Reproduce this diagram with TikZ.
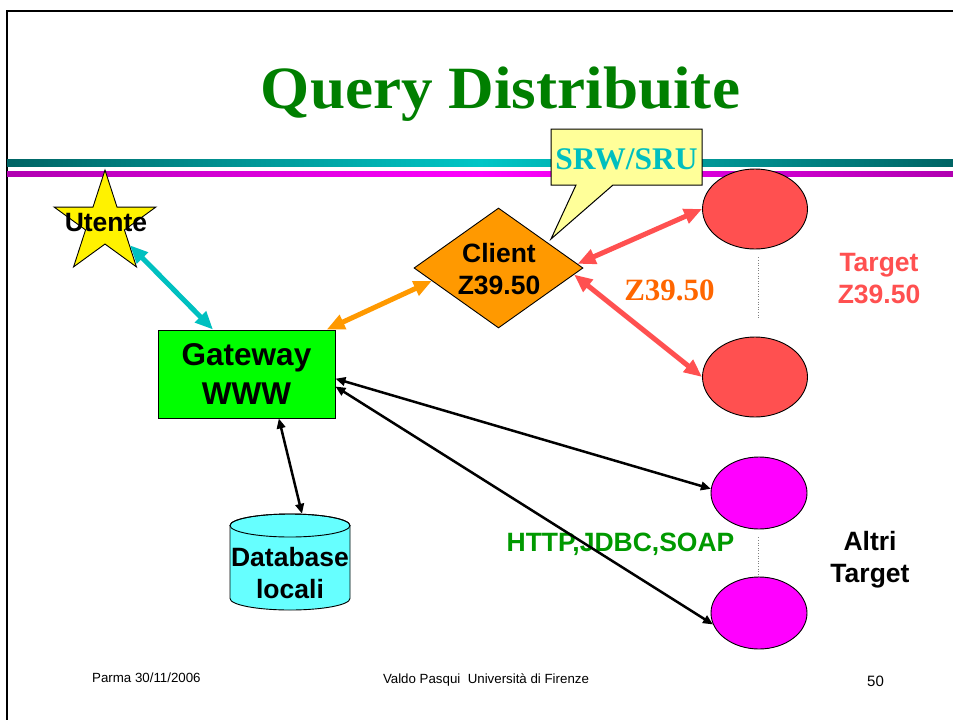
\documentclass[tikz,border=0pt]{standalone}
\usepackage{fontspec}
\setmainfont{Liberation Serif}
\setsansfont{Liberation Sans}
\usetikzlibrary{shapes.geometric,arrows.meta}
\definecolor{titlegreen}{HTML}{007F00}
\definecolor{tealdark}{HTML}{006464}
\definecolor{teallight}{HTML}{00C6C6}
\definecolor{magdark}{HTML}{B000B0}
\definecolor{maglight}{HTML}{FF00FF}
\definecolor{callyellow}{HTML}{FFFF99}
\definecolor{srwcyan}{HTML}{00BFBF}
\definecolor{gwgreen}{HTML}{00FF00}
\definecolor{clorange}{HTML}{FF9900}
\definecolor{tgtred}{HTML}{FF5050}
\definecolor{zorange}{HTML}{FF6600}
\definecolor{httpgreen}{HTML}{009900}
\definecolor{dbcyan}{HTML}{66FFFF}
\definecolor{arrcyan}{HTML}{00C0C0}
\tikzset{
  shapeline/.style={draw=black, line width=0.9pt},
  bold/.style={font=\sffamily\bfseries\fontsize{26.5}{32}\selectfont, inner sep=0pt, align=center},
  foot/.style={font=\sffamily\fontsize{13.3}{16}\selectfont, inner sep=0pt},
  bigarrow/.style={line width=5pt, {Triangle[length=18pt,width=15pt]}-{Triangle[length=18pt,width=15pt]}},
  thinarrow/.style={line width=2.5pt, {Triangle[length=10pt,width=8.5pt]}-{Triangle[length=10pt,width=8.5pt]}},
  dotline/.style={draw=gray, line width=0.6pt, dotted},
  oval/.style={ellipse, shapeline, inner sep=0pt}
}
\begin{document}
\begin{tikzpicture}[x=1pt,y=-1pt]
\useasboundingbox (0,0) rectangle (953,720);
\fill[white] (0,0) rectangle (953,720);
% slide frame
\draw[line width=2pt] (7,720) -- (7,11) -- (953,11);
% title
\node[font=\bfseries\fontsize{60}{70}\selectfont, text=titlegreen, inner sep=0pt, anchor=base] (title) at (500.5,108) {\scalebox{1.053}[1]{Query Distribuite}};
% bars
\shade[left color=tealdark, right color=tealdark, middle color=teallight] (7,159.5) rectangle (953,166.5);
\shade[left color=magdark, right color=magdark, middle color=maglight] (7,171) rectangle (953,176);
% callout
\draw[fill=callyellow, line width=1pt] (551,129) -- (702,129) -- (702,185) -- (613,185) -- (551,239) -- (576,185) -- (551,185) -- cycle;
\node[font=\bfseries\fontsize{31.5}{36}\selectfont, text=srwcyan, inner sep=0pt, anchor=base] (srw) at (626.5,169) {SRW/SRU};
% star
\node[star, star points=5, star point ratio=2.618, minimum size=107pt, inner sep=0pt, shapeline, fill=yellow] (star) at (105,223.6) {};
\node[bold, anchor=base] (utente) at (106,231) {Utente};
% gateway
\node[rectangle, shapeline, fill=gwgreen, minimum width=177pt, minimum height=88pt, inner sep=0pt, align=center, font=\sffamily\bfseries\fontsize{31.5}{39}\selectfont] (gw) at (246.5,374) {Gateway\\WWW};
% client diamond
\node[diamond, shapeline, fill=clorange, minimum width=169pt, minimum height=120pt, inner sep=0pt] (cl) at (498.5,268) {};
\node[bold] (cltext) at (499,269.5) {Client\\Z39.50};
% targets
\node[oval, fill=tgtred, minimum width=105pt, minimum height=80pt] (t1) at (755,209) {};
\node[oval, fill=tgtred, minimum width=105pt, minimum height=80pt] (t2) at (755,377) {};
\draw[dotline, shorten <=8pt, shorten >=18pt] ([xshift=3pt]t1.south) -- ([xshift=3pt]t2.north);
\node[bold, text=tgtred] (tgtlbl) at (879,278.4) {Target\\Z39.50};
\node[font=\bfseries\fontsize{31}{36}\selectfont, text=zorange, inner sep=0pt, anchor=base] (zlbl) at (669.5,300) {Z39.50};
% other targets
\node[oval, fill=maglight, minimum width=96pt, minimum height=72pt] (a1) at (759,493) {};
\node[oval, fill=maglight, minimum width=96pt, minimum height=72pt] (a2) at (759,613) {};
\draw[dotline, shorten <=8pt] ([xshift=-1pt]a1.south) -- ([xshift=-1pt]a2.north);
\node[bold] (altri) at (870,559.8) {Altri\\Target};
% database cylinder
\node[rectangle, minimum width=120pt, minimum height=96pt, inner sep=0pt] (db) at (290,562) {};
\filldraw[fill=dbcyan, line width=0.9pt] (230,525.5) -- (230,598.5) arc[start angle=180, end angle=0, x radius=60, y radius=11.5] -- (350,525.5) arc[start angle=0, end angle=-180, x radius=60, y radius=11.5] -- cycle;
\draw[line width=0.9pt] (290,525.5) ellipse[x radius=60, y radius=11.5];
\node[bold] (dbtext) at (290,572.7) {Database\\locali};
% protocol label (under arrows)
\node[font=\sffamily\bfseries\fontsize{26.5}{32}\selectfont, text=httpgreen, inner sep=0pt, anchor=base] (http) at (620.5,551) {HTTP,JDBC,SOAP};
% connectors
\draw[bigarrow, arrcyan] (star.-41) -- (gw.127);
\draw[bigarrow, clorange] (gw.29) -- (cl.191);
\draw[bigarrow, tgtred] (cl.3) -- (t1.west);
\draw[bigarrow, tgtred] (cl.-5) -- (t2.west);
\draw[thinarrow] (gw.-3) -- (a1.175);
\draw[thinarrow] (gw.-8) -- (a2.194);
\draw[thinarrow] (gw.-54) -- (db.76);
% footer
\node[foot, anchor=base west] (parma) at (92,682) {Parma 30/11/2006};
\node[foot, anchor=base] (autore) at (486,683) {Valdo Pasqui\ \ Università di Firenze};
\node[font=\sffamily\fontsize{15}{18}\selectfont, inner sep=0pt, anchor=base] (pagenum) at (875.5,686) {50};
\end{tikzpicture}
\end{document}
